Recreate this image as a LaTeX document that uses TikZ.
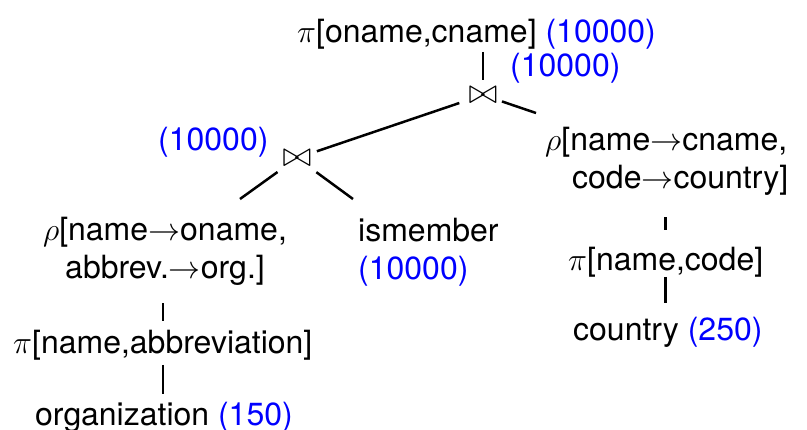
\RequirePackage{fix-cm}
\documentclass[tikz,border=0pt]{standalone}
\usepackage{fontspec}
\setmainfont{TeX Gyre Heros}
\usetikzlibrary{calc}
\begin{document}
\begin{tikzpicture}[x=1pt,y=-1pt,
  lbl/.style={inner sep=0pt, font=\fontsize{32}{38}\selectfont},
  card/.style={lbl, text=blue},
  edge/.style={line width=2.5pt}]
\useasboundingbox (0,0) rectangle (807,429);
% nodes
\node[lbl,anchor=base west] (top) at (297,42) {$\pi$[oname,cname] \textcolor{blue}{(10000)}};
\node[card,anchor=base west] (c1) at (510,76) {(10000)};
\node[lbl,scale=1.1] (j1) at (483,95) {$\bowtie$};
\node[card,anchor=base west] (c2) at (158,150) {(10000)};
\node[lbl,scale=1.1] (j2) at (297,158) {$\bowtie$};
\node[lbl,align=center,anchor=base] (lr) at (165,278) {$\rho$[name$\to$oname,\\abbrev.$\to$org.]};
\node[lbl,align=left,anchor=base west] (ism) at (358,279) {ismember\\\textcolor{blue}{(10000)}};
\node[lbl,anchor=base west] (pa) at (13,353) {$\pi$[name,abbreviation]};
\node[lbl,anchor=base west] (org) at (35,425) {organization \textcolor{blue}{(150)}};
\node[lbl,align=left,anchor=base west] (rr) at (545,188) {$\rho$[name$\to$cname,\\\hspace*{27pt}code$\to$country]};
\node[lbl,anchor=base west] (pc) at (568,270) {$\pi$[name,code]};
\node[lbl,anchor=base west] (co) at (573,340) {country \textcolor{blue}{(250)}};
% ports
\coordinate (lr-in) at (240,199);
\coordinate (ism-in) at (353,199);
\coordinate (rr-in) at (536,113);
% connectors
\draw[edge,shorten <=3pt,shorten >=15pt] (j1.center |- top.south) -- (j1.center);
\draw[edge,shorten <=25pt,shorten >=21pt] (j1.center) -- (j2.center);
\draw[edge,shorten <=20pt] (j1.center) -- (rr-in);
\draw[edge,shorten <=24pt] (j2.center) -- (lr-in);
\draw[edge,shorten <=24pt] (j2.center) -- (ism-in);
\draw[edge,shorten <=18pt,shorten >=8pt] (pa.north |- lr.south) -- (pa.north);
\draw[edge,shorten <=5pt,shorten >=7pt] (pa.south) -- (pa.south |- org.north);
\draw[edge,shorten <=22pt,shorten >=16pt] (pc.north |- rr.south) -- (pc.north);
\draw[edge,shorten >=13pt] (pc.south) -- (pc.south |- co.north);
\end{tikzpicture}
\end{document}
